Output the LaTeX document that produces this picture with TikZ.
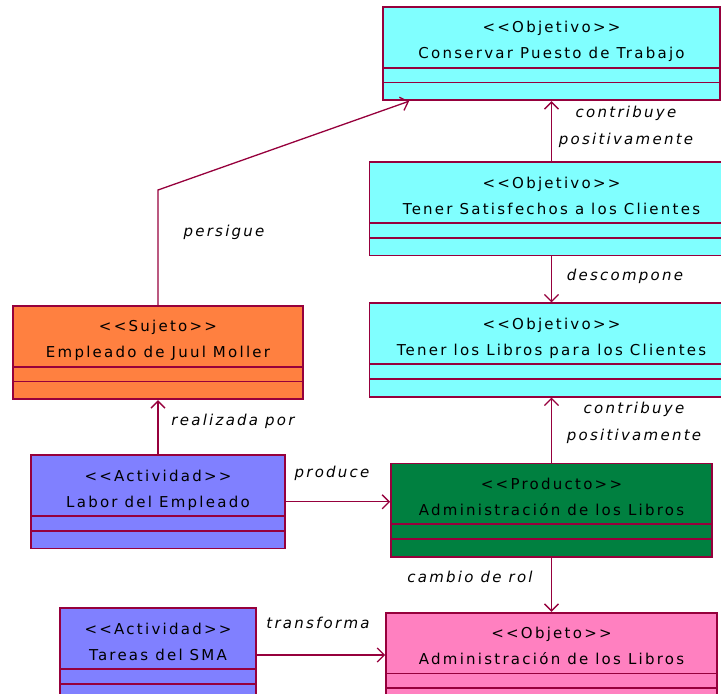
\documentclass[tikz,border=0pt]{standalone}
\usepackage{fontspec}
\usepackage{tikz}
\usetikzlibrary{arrows.meta,positioning,shapes.multipart}
\setmainfont{DejaVu Sans}[Ligatures=TeXOff,LetterSpace=15]
\definecolor{borde}{RGB}{150,0,60}
\definecolor{objetivo}{RGB}{128,255,255}
\definecolor{sujeto}{RGB}{255,128,64}
\definecolor{actividad}{RGB}{128,128,255}
\definecolor{producto}{RGB}{0,128,64}
\definecolor{objeto}{RGB}{255,128,192}
% cabecera de la clase: estereotipo y nombre
\newcommand{\cabecera}[2]{\vbox to 59pt{\vfil\vskip10pt\hbox{\begin{tabular}{@{}c@{}}<<#1>>\\[8pt]#2\end{tabular}}\vfil}}
% los dos compartimentos vacios
\newcommand{\compartimentos}{\nodepart{two}\rule{0pt}{13pt}\nodepart{three}\rule{0pt}{16pt}}

\begin{document}
\begin{tikzpicture}[x=1pt,y=-1pt,
  font=\fontsize{15}{18}\selectfont,
  clase/.style={draw=borde,line width=1.8pt,rectangle split,rectangle split parts=3,
                inner xsep=0pt,inner ysep=0pt,text=black},
  flecha/.style={-{Straight Barb[length=7pt,width=14pt]},line width=1.3pt,color=borde},
  etiqueta/.style={font=\fontsize{15}{18}\selectfont\itshape,align=center}
]
\useasboundingbox (0,0) rectangle (721,694);
% columna de objetivos y productos
\node[clase,fill=objetivo,minimum width=337pt,anchor=north] (conservar) at (551.5,6)
  {\cabecera{Objetivo}{Conservar Puesto de Trabajo}\compartimentos};
\node[clase,fill=objetivo,minimum width=364pt,below=60pt of conservar] (satisfechos)
  {\cabecera{Objetivo}{Tener Satisfechos a los Clientes}\compartimentos};
\node[clase,fill=objetivo,minimum width=364pt,below=46pt of satisfechos] (libros)
  {\cabecera{Objetivo}{Tener los Libros para los Clientes}\compartimentos};
\node[clase,fill=producto,minimum width=321pt,below=65pt of libros] (producto)
  {\cabecera{Producto}{Administración de los Libros}\compartimentos};
\node[clase,fill=objeto,minimum width=331pt,below=54pt of producto] (objeto)
  {\cabecera{Objeto}{Administración de los Libros}\compartimentos};
% columna del sujeto y sus actividades
\node[clase,fill=sujeto,minimum width=290pt,anchor=north] (sujeto) at (158,305)
  {\cabecera{Sujeto}{Empleado de Juul Moller}\compartimentos};
\node[clase,fill=actividad,minimum width=254pt,below=54pt of sujeto] (labor)
  {\cabecera{Actividad}{Labor del Empleado}\compartimentos};
\node[clase,fill=actividad,minimum width=196pt,below=58pt of labor] (tareas)
  {\cabecera{Actividad}{Tareas del SMA}\compartimentos};

\coordinate (codo) at (158,190);
\coordinate (meta) at ([xshift=27pt]conservar.south west);
\draw[flecha] (sujeto.north) -- (codo) -- (meta);
\draw[flecha] (satisfechos.north) -- (conservar.south);
\draw[flecha] (satisfechos.south) -- (libros.north);
\draw[flecha] (producto.north) -- (libros.south);
\draw[flecha] (producto.south) -- (objeto.north);
\draw[flecha] (labor.north) -- (sujeto.south);
\draw[flecha] (labor.east) -- (labor.east -| producto.west);
\draw[flecha] (tareas.east) -- (tareas.east -| objeto.west);

\node[etiqueta] (persigue) at (224,232) {persigue};
\node[etiqueta] (contribuye) at (626,127) {contribuye\\[9pt]positivamente};
\node[etiqueta] (descompone) at (625,276) {descompone};
\node[etiqueta] (contribuye2) at (634,423) {contribuye\\[9pt]positivamente};
\node[etiqueta] (realizada) at (233,421) {realizada por};
\node[etiqueta] (produce) at (332,473) {produce};
\node[etiqueta] (cambio) at (470,577) {cambio de rol};
\node[etiqueta] (transforma) at (318,623) {transforma};
\end{tikzpicture}
\end{document}
